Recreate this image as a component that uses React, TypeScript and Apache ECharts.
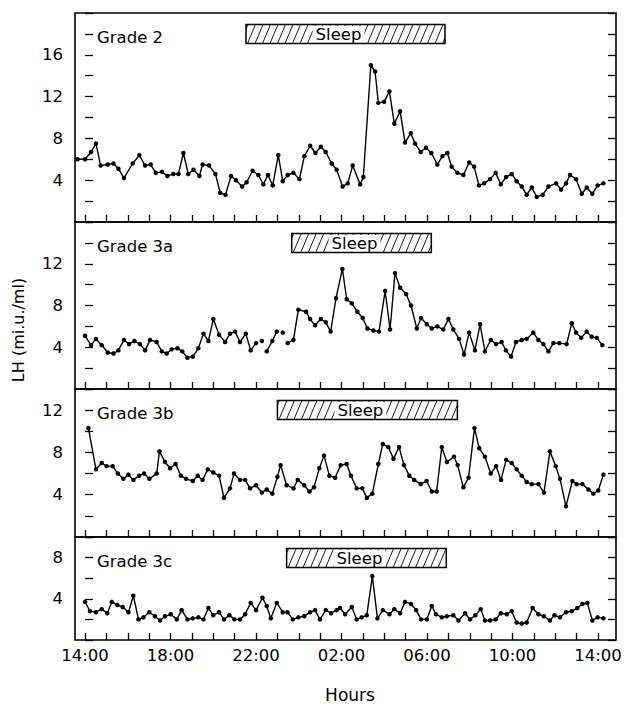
import React, { useEffect, useRef } from 'react';
import * as echarts from 'echarts';

// ---- Data (hours after 14:00, LH mi.u./ml) ----
const panelNames = ['Grade 2', 'Grade 3a', 'Grade 3b', 'Grade 3c'];
const yMax = [20, 16, 14, 10];
const sleepStart = [7.53, 9.67, 9.0, 9.43];
const sleepEnd = [16.84, 16.2, 17.42, 16.9];
const hourTicks = [0, 1, 2, 3, 4, 5, 6, 7, 8, 9, 10, 11, 12, 13, 14, 15, 16, 17, 18, 19, 20, 21, 22, 23, 24];
const labelHours = [0, 4, 8, 12, 16, 20, 24];
const hourLabels = ['14:00', '18:00', '22:00', '02:00', '06:00', '10:00', '14:00'];

const grade2 = [
  [-0.35, 6.0], [0.0, 6.0], [0.28, 6.7], [0.51, 7.5], [0.73, 5.4], [1.06, 5.5], [1.33, 5.6], [1.56, 5.1],
  [1.82, 4.2], [2.23, 5.6], [2.54, 6.4], [2.81, 5.4], [3.07, 5.5], [3.31, 4.7], [3.6, 4.8], [3.85, 4.4],
  [4.13, 4.6], [4.37, 4.6], [4.6, 6.6], [4.83, 4.6], [5.07, 5.0], [5.35, 4.4], [5.5, 5.5], [5.8, 5.4],
  [6.1, 4.6], [6.32, 2.8], [6.57, 2.6], [6.83, 4.4], [7.06, 4.0], [7.35, 3.4], [7.56, 3.8], [7.84, 4.9],
  [8.11, 4.5], [8.34, 3.6], [8.56, 4.5], [8.78, 3.5], [9.04, 6.4], [9.25, 3.9], [9.48, 4.5], [9.75, 4.7],
  [10.03, 4.1], [10.26, 6.3], [10.53, 7.3], [10.78, 6.6], [11.03, 7.2], [11.26, 6.7], [11.54, 5.6], [11.77, 5.0],
  [12.05, 3.4], [12.29, 3.7], [12.52, 5.4], [12.87, 3.6], [13.02, 4.3], [13.37, 15.0], [13.57, 14.4], [13.72, 11.4],
  [13.99, 11.5], [14.24, 12.5], [14.47, 9.4], [14.74, 10.6], [14.97, 7.6], [15.24, 8.5], [15.44, 7.5], [15.7, 6.7],
  [15.95, 7.1], [16.2, 6.6], [16.48, 5.5], [16.72, 6.3], [16.95, 6.6], [17.15, 5.3], [17.42, 4.7], [17.7, 4.5],
  [17.97, 5.7], [18.2, 5.3], [18.43, 3.5], [18.67, 3.7], [18.95, 4.1], [19.21, 4.7], [19.45, 3.6], [19.7, 4.3],
  [19.96, 4.6], [20.19, 3.9], [20.43, 3.4], [20.66, 2.6], [20.9, 3.3], [21.13, 2.4], [21.41, 2.6], [21.68, 3.4],
  [22.04, 3.7], [22.27, 3.1], [22.5, 3.7], [22.69, 4.5], [22.97, 4.1], [23.24, 2.7], [23.47, 3.3], [23.73, 2.7],
  [23.98, 3.5], [24.25, 3.7],
];

const grade3a = [
  [0.0, 5.1], [0.28, 4.2], [0.51, 4.8], [0.78, 4.2], [1.06, 3.5], [1.33, 3.4], [1.56, 3.7], [1.82, 4.7],
  [2.06, 4.3], [2.31, 4.6], [2.57, 4.3], [2.81, 3.7], [3.04, 4.7], [3.35, 4.5], [3.59, 3.6], [3.82, 3.4],
  [4.05, 3.8], [4.32, 3.9], [4.55, 3.6], [4.79, 3.0], [5.04, 3.1], [5.3, 3.9], [5.54, 5.3], [5.77, 4.6],
  [6.0, 6.7], [6.27, 5.2], [6.55, 4.5], [6.78, 5.3], [7.02, 5.5], [7.25, 4.5], [7.52, 5.3], [7.75, 3.7],
  [8.0, 4.4], [8.13, null], [8.27, 4.6], [8.39, null], [8.5, 3.6], [8.76, 4.6], [8.97, 5.5], [9.1, null],
  [9.25, 5.4], [9.37, null], [9.48, 4.4], [9.75, 4.7], [9.98, 7.6], [10.34, 7.4], [10.53, 6.7], [10.76, 6.1],
  [11.03, 6.7], [11.26, 6.4], [11.49, 5.5], [11.74, 8.7], [12.04, 11.5], [12.24, 8.6], [12.48, 8.2], [12.74, 7.4],
  [12.99, 6.8], [13.21, 5.8], [13.49, 5.6], [13.75, 5.5], [14.04, 9.4], [14.27, 5.7], [14.5, 11.1], [14.74, 9.7],
  [15.02, 9.1], [15.25, 8.0], [15.52, 5.8], [15.72, 6.8], [15.99, 6.2], [16.22, 5.8], [16.48, 6.0], [16.76, 5.7],
  [17.0, 6.7], [17.23, 5.7], [17.5, 4.8], [17.73, 3.3], [17.97, 5.4], [18.24, 3.7], [18.48, 6.2], [18.71, 3.6],
  [18.98, 4.7], [19.23, 4.3], [19.49, 4.5], [19.69, 3.7], [19.93, 3.1], [20.16, 4.5], [20.43, 4.7], [20.66, 4.8],
  [20.97, 5.4], [21.21, 4.7], [21.44, 4.3], [21.68, 3.6], [21.91, 4.4], [22.19, 4.4], [22.53, 4.3], [22.77, 6.3],
  [22.97, 5.4], [23.21, 4.9], [23.47, 5.5], [23.7, 5.0], [23.94, 4.9], [24.2, 4.2],
];

const grade3b = [
  [0.16, 10.3], [0.51, 6.4], [0.78, 7.0], [1.01, 6.7], [1.29, 6.7], [1.53, 6.0], [1.79, 5.5], [2.03, 5.9],
  [2.26, 5.4], [2.53, 5.8], [2.76, 6.0], [3.01, 5.5], [3.35, 6.0], [3.48, 8.1], [3.74, 7.1], [3.98, 6.5],
  [4.24, 6.9], [4.48, 5.8], [4.73, 5.5], [5.04, 5.3], [5.27, 5.8], [5.5, 5.4], [5.74, 6.4], [6.0, 6.1],
  [6.27, 5.8], [6.5, 3.7], [6.78, 4.6], [6.97, 6.0], [7.25, 5.4], [7.49, 5.4], [7.72, 4.6], [8.0, 4.9],
  [8.27, 4.2], [8.5, 4.5], [8.76, 4.1], [9.0, 5.7], [9.15, 6.8], [9.43, 4.9], [9.75, 4.6], [9.95, 5.4],
  [10.25, 4.9], [10.5, 4.3], [10.71, 4.7], [10.96, 6.5], [11.18, 7.7], [11.43, 5.8], [11.7, 5.6], [11.96, 6.8],
  [12.24, 6.9], [12.44, 5.8], [12.71, 4.6], [12.97, 4.6], [13.18, 3.7], [13.44, 4.1], [13.72, 6.9], [13.93, 8.8],
  [14.19, 8.5], [14.43, 7.4], [14.69, 8.5], [14.92, 6.8], [15.17, 5.8], [15.4, 5.4], [15.7, 5.0], [15.98, 5.3],
  [16.22, 4.3], [16.45, 4.3], [16.69, 8.5], [16.93, 7.1], [17.26, 7.6], [17.43, 6.8], [17.7, 4.7], [17.94, 5.6],
  [18.22, 10.3], [18.44, 8.4], [18.71, 7.6], [18.98, 6.0], [19.23, 6.7], [19.46, 5.4], [19.7, 7.3], [19.96, 7.0],
  [20.19, 6.4], [20.43, 5.8], [20.66, 5.2], [20.9, 5.0], [21.21, 5.0], [21.47, 4.2], [21.75, 8.1], [22.02, 6.7],
  [22.22, 5.5], [22.5, 2.9], [22.8, 5.3], [23.0, 5.0], [23.27, 5.0], [23.55, 4.5], [23.78, 4.1], [24.01, 4.4],
  [24.25, 5.9],
];

const grade3c = [
  [0.0, 3.7], [0.23, 2.8], [0.51, 2.7], [0.78, 3.0], [1.04, 2.6], [1.25, 3.7], [1.51, 3.4], [1.76, 3.2],
  [2.03, 2.7], [2.26, 4.3], [2.5, 2.0], [2.73, 2.2], [3.01, 2.7], [3.27, 2.3], [3.51, 1.9], [3.74, 2.3],
  [4.01, 2.5], [4.29, 2.0], [4.52, 2.9], [4.79, 2.0], [5.04, 2.1], [5.3, 2.2], [5.54, 2.0], [5.77, 3.1],
  [6.0, 2.4], [6.27, 2.7], [6.5, 2.0], [6.75, 2.4], [6.99, 2.0], [7.25, 2.0], [7.49, 2.5], [7.75, 3.6],
  [8.0, 2.9], [8.3, 4.1], [8.5, 3.3], [8.69, 2.1], [8.97, 3.6], [9.25, 2.7], [9.47, 2.7], [9.72, 2.0],
  [9.98, 2.2], [10.25, 2.3], [10.53, 2.7], [10.76, 2.9], [10.99, 2.0], [11.26, 2.9], [11.51, 2.6], [11.77, 2.9],
  [11.93, 3.1], [12.17, 2.5], [12.48, 3.2], [12.71, 2.0], [12.94, 2.2], [13.18, 2.4], [13.44, 6.2], [13.68, 2.1],
  [13.93, 2.9], [14.24, 2.5], [14.47, 3.0], [14.74, 2.6], [14.97, 3.7], [15.25, 3.5], [15.49, 2.9], [15.72, 2.0],
  [15.99, 2.0], [16.22, 3.3], [16.42, 2.5], [16.69, 2.2], [16.92, 2.3], [17.23, 2.4], [17.47, 1.9], [17.78, 2.6],
  [18.01, 2.0], [18.26, 2.4], [18.51, 3.0], [18.71, 1.9], [18.95, 1.9], [19.21, 2.0], [19.45, 2.6], [19.73, 2.5],
  [19.96, 2.8], [20.19, 1.7], [20.43, 1.6], [20.66, 1.7], [20.94, 3.1], [21.21, 2.5], [21.47, 2.3], [21.75, 1.9],
  [21.96, 2.4], [22.22, 2.2], [22.5, 2.7], [22.77, 2.8], [23.03, 3.1], [23.27, 3.5], [23.5, 3.6], [23.73, 1.9],
  [23.98, 2.2], [24.25, 2.1],
];

const seriesData = [grade2, grade3a, grade3b, grade3c];

// ---- Layout ----
const FONT = 'DejaVu Sans';
const gridLeft = 75;
const gridWidth = 541;
const gridTops = [13, 222, 389, 537];
const gridHeights = [209, 167, 148, 104];
const xMin = -0.47;
const xMax = 24.84;

export default function App() {
  const ref = useRef<HTMLDivElement>(null);

  useEffect(() => {
    if (!ref.current) return;
    const chart = echarts.init(ref.current, undefined, { renderer: 'svg' });

    const grids = gridTops.map((t, i) => ({
      left: gridLeft,
      top: t,
      width: gridWidth,
      height: gridHeights[i],
      show: true,
      borderColor: '#000',
      borderWidth: 1.6,
      backgroundColor: 'transparent',
    }));

    const xAxes = gridTops.map((_, i) => ({
      type: 'value',
      gridIndex: i,
      min: xMin,
      max: xMax,
      axisLine: { show: false },
      splitLine: { show: false },
      axisTick: {
        show: true,
        inside: true,
        length: 7,
        customValues: hourTicks,
        lineStyle: { color: '#000', width: 1.3 },
      },
      axisLabel: {
        show: i === 3,
        customValues: labelHours,
        formatter: (v: number) => {
          const k = labelHours.indexOf(Math.round(v));
          return k >= 0 ? hourLabels[k] : '';
        },
        color: '#000',
        fontFamily: FONT,
        fontSize: 16.5,
        margin: 7,
      },
      name: i === 3 ? 'Hours' : '',
      nameLocation: 'middle',
      nameGap: 46,
      nameTextStyle: { color: '#000', fontFamily: FONT, fontSize: 17, padding: [0, 0, 0, 9] },
    }));

    const yAxes: any[] = [];
    gridTops.forEach((_, i) => {
      const base = {
        type: 'value',
        gridIndex: i,
        min: 0,
        max: yMax[i],
        interval: 2,
        axisLine: { show: false },
        splitLine: { show: false },
        axisTick: { show: true, inside: true, length: 8, lineStyle: { color: '#000', width: 1.3 } },
      };
      yAxes.push({
        ...base,
        position: 'left',
        axisLabel: {
          formatter: (v: number) => (v % 4 === 0 && v > 0 && v < yMax[i] ? String(v) : ''),
          color: '#000',
          fontFamily: FONT,
          fontSize: 16.5,
          margin: 12,
        },
      });
      yAxes.push({ ...base, position: 'right', axisLabel: { show: false } });
    });

    const series = seriesData.map((d, i) => ({
      type: 'line',
      xAxisIndex: i,
      yAxisIndex: i * 2,
      data: d,
      symbol: 'circle',
      symbolSize: 4.5,
      showSymbol: true,
      connectNulls: false,
      lineStyle: { color: '#000', width: 1.4 },
      itemStyle: { color: '#000' },
      emphasis: { disabled: true },
    }));

    chart.setOption({
      animation: false,
      backgroundColor: '#fff',
      grid: grids,
      xAxis: xAxes,
      yAxis: yAxes,
      series,
    });

    // ---- Annotations (sleep boxes, panel titles, y name) ----
    const elements: any[] = [];
    gridTops.forEach((_, i) => {
      const top = chart.convertToPixel({ yAxisIndex: i * 2 }, yMax[i]) as number;
      const xl = chart.convertToPixel({ xAxisIndex: i }, sleepStart[i]) as number;
      const xr = chart.convertToPixel({ xAxisIndex: i }, sleepEnd[i]) as number;
      const yt = top + 11.5;
      const yb = top + 30.5;
      const h = yb - yt;
      const run = 8;
      const step = 7.5;
      for (let c = xl - run + 2; c < xr; c += step) {
        const t0 = Math.max(0, (xl - c) / run);
        const t1 = Math.min(1, (xr - c) / run);
        if (t1 <= t0) continue;
        elements.push({
          type: 'line',
          silent: true,
          z: 10,
          shape: { x1: c + run * t0, y1: yb - h * t0, x2: c + run * t1, y2: yb - h * t1 },
          style: { stroke: '#000', lineWidth: 0.9 },
        });
      }
      elements.push({
        type: 'text',
        silent: true,
        z: 11,
        style: {
          text: 'Sleep',
          x: (xl + xr) / 2 - 7,
          y: (yt + yb) / 2 + 0.5,
          align: 'center',
          verticalAlign: 'middle',
          font: `16.5px "${FONT}"`,
          fill: '#000',
          backgroundColor: '#fff',
          padding: [0, 3, 0, 3],
        },
      });
      elements.push({
        type: 'rect',
        silent: true,
        z: 12,
        shape: { x: xl, y: yt, width: xr - xl, height: h },
        style: { fill: 'none', stroke: '#000', lineWidth: 1.5 },
      });
      elements.push({
        type: 'text',
        silent: true,
        z: 12,
        style: {
          text: panelNames[i],
          x: 97,
          y: top + 24.5,
          align: 'left',
          verticalAlign: 'middle',
          font: `16.5px "${FONT}"`,
          fill: '#000',
        },
      });
    });
    elements.push({
      type: 'text',
      silent: true,
      x: 18,
      y: 330,
      rotation: Math.PI / 2,
      style: {
        text: 'LH (mi.u./ml)',
        x: 0,
        y: 0,
        align: 'center',
        verticalAlign: 'middle',
        font: `16px "${FONT}"`,
        fill: '#000',
      },
    });
    chart.setOption({ graphic: { elements } });

    return () => chart.dispose();
  }, []);

  return (
    <div
      ref={ref}
      style={{ position: 'fixed', left: 0, top: 0, width: 625, height: 704, background: '#fff' }}
    />
  );
}
